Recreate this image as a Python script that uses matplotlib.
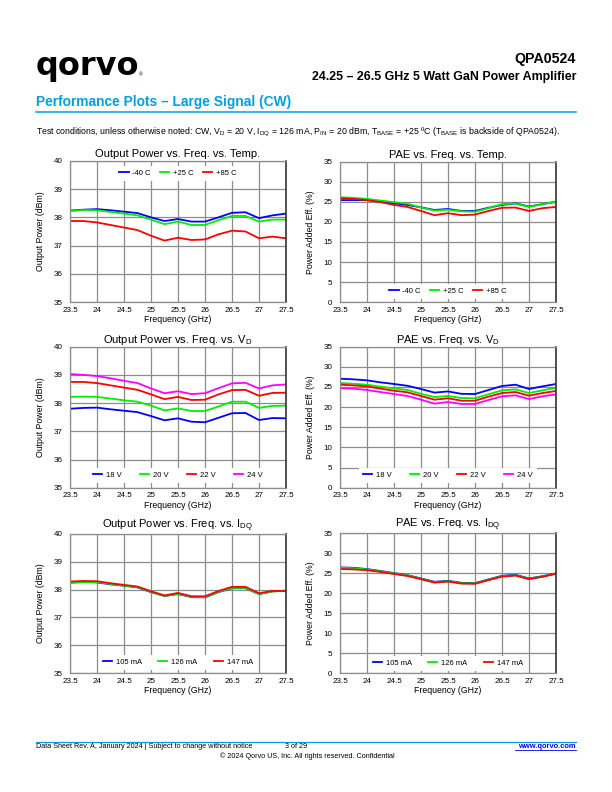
import matplotlib
matplotlib.use("Agg")
import matplotlib.pyplot as plt

plt.rcParams['font.family'] = ['Liberation Sans', 'DejaVu Sans']
plt.rcParams['mathtext.fontset'] = 'custom'
plt.rcParams['mathtext.rm'] = 'Liberation Sans'
plt.rcParams['mathtext.it'] = 'Liberation Sans:italic'
plt.rcParams['mathtext.bf'] = 'Liberation Sans:bold'

# frequency points (GHz)
freq = [23.5, 23.75, 24.0, 24.25, 24.5, 24.75, 25.0, 25.25, 25.5,
        25.75, 26.0, 26.25, 26.5, 26.75, 27.0, 27.25, 27.5]
freq_ticks = [23.5, 24, 24.5, 25, 25.5, 26, 26.5, 27, 27.5]
freq_ticklabels = ['23.5', '24', '24.5', '25', '25.5', '26', '26.5', '27', '27.5']

# output power vs temperature (dBm)
temp_labels = ['-40 C', '+25 C', '+85 C']
pout_m40 = [38.24, 38.27, 38.29, 38.25, 38.20, 38.15, 38.00, 37.87, 37.94,
            37.85, 37.85, 38.00, 38.16, 38.18, 37.97, 38.07, 38.13]
pout_p25 = [38.22, 38.26, 38.25, 38.19, 38.13, 38.07, 37.92, 37.76, 37.85,
            37.73, 37.73, 37.90, 38.05, 38.05, 37.85, 37.92, 37.92]
pout_p85 = [37.87, 37.87, 37.82, 37.73, 37.64, 37.55, 37.35, 37.18, 37.28,
            37.20, 37.22, 37.40, 37.53, 37.50, 37.26, 37.32, 37.26]

# PAE vs temperature (%)
pae_m40 = [25.4, 25.4, 25.4, 25.0, 24.6, 24.2, 23.6, 22.95, 23.2,
           22.7, 22.7, 23.5, 24.2, 24.6, 23.8, 24.4, 25.0]
pae_p25 = [26.1, 25.96, 25.7, 25.3, 24.9, 24.5, 23.55, 22.8, 23.0,
           22.6, 22.5, 23.4, 24.4, 24.55, 23.7, 24.4, 25.0]
pae_p85 = [25.9, 25.7, 25.4, 24.9, 24.2, 23.7, 22.7, 21.65, 22.15,
           21.65, 21.8, 22.7, 23.5, 23.55, 22.7, 23.4, 23.7]

# output power vs VD (dBm)
vd_labels = ['18 V', '20 V', '22 V', '24 V']
pout_18v = [37.80, 37.83, 37.84, 37.78, 37.73, 37.68, 37.54, 37.39, 37.46,
            37.34, 37.32, 37.48, 37.64, 37.65, 37.40, 37.47, 37.46]
pout_20v = [38.22, 38.23, 38.22, 38.16, 38.10, 38.05, 37.91, 37.74, 37.81,
            37.72, 37.72, 37.88, 38.05, 38.05, 37.83, 37.90, 37.91]
pout_22v = [38.75, 38.75, 38.71, 38.63, 38.55, 38.47, 38.31, 38.14, 38.22,
            38.11, 38.12, 38.31, 38.46, 38.47, 38.26, 38.36, 38.37]
pout_24v = [39.03, 39.00, 38.96, 38.88, 38.79, 38.71, 38.52, 38.35, 38.42,
            38.32, 38.35, 38.53, 38.70, 38.72, 38.52, 38.63, 38.66]

# PAE vs VD (%)
pae_18v = [27.06, 26.9, 26.65, 26.15, 25.74, 25.3, 24.5, 23.6, 23.9,
           23.3, 23.25, 24.25, 25.24, 25.57, 24.5, 25.16, 25.74]
pae_20v = [26.0, 25.8, 25.57, 25.07, 24.66, 24.25, 23.3, 22.5, 22.76,
           22.26, 22.2, 23.2, 24.16, 24.4, 23.5, 24.16, 24.8]
pae_22v = [25.57, 25.4, 25.16, 24.58, 24.08, 23.67, 22.76, 21.85, 22.2,
           21.6, 21.6, 22.6, 23.5, 23.75, 22.84, 23.5, 24.0]
pae_24v = [24.66, 24.58, 24.25, 23.75, 23.25, 22.76, 21.85, 20.86, 21.27,
           20.78, 20.78, 21.77, 22.68, 22.92, 22.0, 22.68, 23.17]

# output power vs IDQ (dBm)
idq_labels = ['105 mA', '126 mA', '147 mA']
pout_105 = [38.25, 38.27, 38.26, 38.19, 38.14, 38.08, 37.91, 37.77, 37.84,
            37.73, 37.72, 37.91, 38.05, 38.05, 37.84, 37.94, 37.96]
pout_126 = [38.26, 38.27, 38.27, 38.20, 38.14, 38.09, 37.92, 37.77, 37.85,
            37.74, 37.73, 37.92, 38.06, 38.06, 37.84, 37.93, 37.96]
pout_147 = [38.29, 38.31, 38.30, 38.23, 38.17, 38.11, 37.94, 37.79, 37.88,
            37.76, 37.76, 37.95, 38.10, 38.10, 37.87, 37.95, 37.95]

# PAE vs IDQ (%)
pae_105 = [26.4, 26.3, 25.98, 25.5, 24.98, 24.47, 23.64, 22.8, 23.05,
           22.55, 22.47, 23.4, 24.3, 24.56, 23.64, 24.2, 24.9]
pae_126 = [26.3, 26.2, 25.9, 25.4, 24.9, 24.4, 23.55, 22.7, 22.95,
           22.45, 22.4, 23.3, 24.2, 24.45, 23.55, 24.1, 24.85]
pae_147 = [26.0, 25.9, 25.7, 25.25, 24.75, 24.25, 23.45, 22.6, 22.85,
           22.35, 22.3, 23.2, 24.1, 24.35, 23.45, 24.05, 24.8]

blue = '#0000ff'
green = '#00ee00'
red = '#ff0000'
magenta = '#ff00ff'
qorvo_blue = '#009fdf'

W, H = 612, 792
fig = plt.figure(figsize=(W / 100, H / 100), dpi=100)


def fx(x):
    return x / W


def fy(y):
    return 1 - y / H


def make_axes(left, top, right, bottom):
    return fig.add_axes([fx(left), fy(bottom), (right - left) / W, (bottom - top) / H])


def style_axes(ax, title, ylabel, ylim, yticks, title_pad=2.5):
    ax.set_xlim(23.5, 27.5)
    ax.set_ylim(*ylim)
    ax.set_xticks(freq_ticks)
    ax.set_xticklabels(freq_ticklabels)
    ax.set_yticks(yticks)
    ax.tick_params(axis='both', length=0, labelsize=5.8, colors='black')
    ax.tick_params(axis='x', pad=3.3)
    ax.tick_params(axis='y', pad=5.5)
    ax.grid(True, color='#8c8c8c', linewidth=0.9)
    ax.set_axisbelow(True)
    for s in ax.spines.values():
        s.set_color('#8c8c8c')
        s.set_linewidth(0.9)
    ax.spines['right'].set_color('#333333')
    ax.spines['right'].set_linewidth(1.2)
    ax.set_title(title, fontsize=8, pad=title_pad)
    ax.set_xlabel('Frequency (GHz)', fontsize=6.3, labelpad=1)
    ax.set_ylabel(ylabel, fontsize=6.3, labelpad=6)


def add_legend(ax, y, colspacing, loc='center'):
    leg = ax.legend(loc=loc, bbox_to_anchor=(0.5, y), ncol=4, fontsize=5.5,
                    handlelength=1.2, handletextpad=0.5, columnspacing=colspacing,
                    frameon=True, fancybox=False, framealpha=1, facecolor='white',
                    edgecolor='none', borderpad=0.5)
    return leg


lw = 1.3
pout_ticks = [35, 36, 37, 38, 39, 40]
pae_ticks = [0, 5, 10, 15, 20, 25, 30, 35]

# row 1
ax1 = make_axes(70, 160.7, 286, 302.3)
ax1.plot(freq, pout_m40, color=blue, lw=lw, label=temp_labels[0])
ax1.plot(freq, pout_p25, color=green, lw=lw, label=temp_labels[1])
ax1.plot(freq, pout_p85, color=red, lw=lw, label=temp_labels[2])
style_axes(ax1, 'Output Power vs. Freq. vs. Temp.', 'Output Power (dBm)', (35, 40), pout_ticks)
add_legend(ax1, 0.913, 1.2)

ax2 = make_axes(340, 161.5, 556, 302.3)
ax2.plot(freq, pae_m40, color=blue, lw=lw, label=temp_labels[0])
ax2.plot(freq, pae_p25, color=green, lw=lw, label=temp_labels[1])
ax2.plot(freq, pae_p85, color=red, lw=lw, label=temp_labels[2])
style_axes(ax2, 'PAE vs. Freq. vs. Temp.', 'Power Added Eff. (%)', (0, 35), pae_ticks)
add_legend(ax2, 0.078, 1.2)

# row 2
ax3 = make_axes(70, 346.7, 286, 487.7)
ax3.plot(freq, pout_18v, color=blue, lw=lw, label=vd_labels[0])
ax3.plot(freq, pout_20v, color=green, lw=lw, label=vd_labels[1])
ax3.plot(freq, pout_22v, color=red, lw=lw, label=vd_labels[2])
ax3.plot(freq, pout_24v, color=magenta, lw=lw, label=vd_labels[3])
style_axes(ax3, r'Output Power vs. Freq. vs. V$_{\mathrm{D}}$', 'Output Power (dBm)', (35, 40), pout_ticks)
add_legend(ax3, 0.09, 2.4)

ax4 = make_axes(340, 346.7, 556, 487.7)
ax4.plot(freq, pae_18v, color=blue, lw=lw, label=vd_labels[0])
ax4.plot(freq, pae_20v, color=green, lw=lw, label=vd_labels[1])
ax4.plot(freq, pae_22v, color=red, lw=lw, label=vd_labels[2])
ax4.plot(freq, pae_24v, color=magenta, lw=lw, label=vd_labels[3])
style_axes(ax4, r'PAE vs. Freq. vs. V$_{\mathrm{D}}$', 'Power Added Eff. (%)', (0, 35), pae_ticks)
add_legend(ax4, 0.09, 2.4)

# row 3
ax5 = make_axes(70, 534, 286, 673)
ax5.plot(freq, pout_105, color=blue, lw=lw, label=idq_labels[0])
ax5.plot(freq, pout_126, color=green, lw=lw, label=idq_labels[1])
ax5.plot(freq, pout_147, color=red, lw=lw, label=idq_labels[2])
style_axes(ax5, r'Output Power vs. Freq. vs. I$_{\mathrm{DQ}}$', 'Output Power (dBm)', (35, 40), pout_ticks, title_pad=4.5)
add_legend(ax5, 0.078, 2.1)

ax6 = make_axes(340, 533, 556, 673)
ax6.plot(freq, pae_105, color=blue, lw=lw, label=idq_labels[0])
ax6.plot(freq, pae_126, color=green, lw=lw, label=idq_labels[1])
ax6.plot(freq, pae_147, color=red, lw=lw, label=idq_labels[2])
style_axes(ax6, r'PAE vs. Freq. vs. I$_{\mathrm{DQ}}$', 'Power Added Eff. (%)', (0, 35), pae_ticks, title_pad=4.5)
add_legend(ax6, 0.07, 2.1)

# header
fig.text(fx(36), fy(75), 'qorvo', fontsize=23, fontweight='bold', family='DejaVu Sans',
         va='baseline', ha='left', color='black')
fig.text(fx(139), fy(76), '\u00ae', fontsize=3.5, va='baseline', ha='left')
fig.text(fx(576), fy(59), 'QPA0524', fontsize=10.2, fontweight='bold', ha='right', va='center')
fig.text(fx(576), fy(77), '24.25 \u2013 26.5 GHz 5 Watt GaN Power Amplifier', fontsize=8.9,
         fontweight='bold', ha='right', va='center')
fig.text(fx(36), fy(102), 'Performance Plots \u2013 Large Signal (CW)', fontsize=9.9,
         fontweight='bold', color=qorvo_blue, ha='left', va='center')
fig.add_artist(plt.Line2D([fx(36), fx(576)], [fy(112), fy(112)], color=qorvo_blue, lw=1.1))
fig.text(fx(36), fy(132.5),
         r'Test conditions, unless otherwise noted: CW, V$_{\mathrm{D}}$ = 20 V, I$_{\mathrm{DQ}}$ = 126 mA, '
         r'P$_{\mathrm{IN}}$ = 20 dBm, T$_{\mathrm{BASE}}$ = +25 ºC (T$_{\mathrm{BASE}}$ is backside of QPA0524).',
         fontsize=6.35, ha='left', va='center')

# footer
fig.add_artist(plt.Line2D([fx(36), fx(576)], [fy(742), fy(742)], color=qorvo_blue, lw=0.9))
fig.text(fx(36), fy(747), 'Data Sheet Rev. A, January 2024 | Subject to change without notice',
         fontsize=5.2, ha='left', va='center')
fig.text(fx(285), fy(747), '3 of 29', fontsize=5.2, ha='left', va='center')
fig.text(fx(307.5), fy(756), '\u00a9 2024 Qorvo US, Inc. All rights reserved. Confidential',
         fontsize=5.2, ha='center', va='center')
fig.text(fx(576), fy(747), 'www.qorvo.com', fontsize=5.4, fontweight='bold', color='#0000ee',
         ha='right', va='center')
fig.add_artist(plt.Line2D([fx(515), fx(576)], [fy(749.6), fy(749.6)], color='#0000ee', lw=0.6))

fig.savefig('out.png', dpi=100)
